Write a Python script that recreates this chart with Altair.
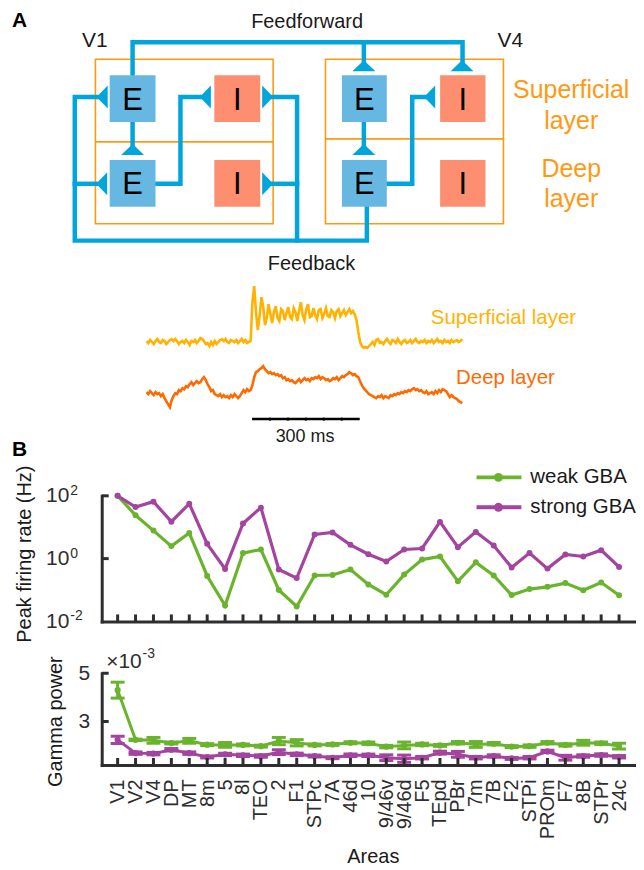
import altair as alt
import pandas as pd

FONT = "Liberation Sans"
AX = "#2e2e2e"
TXT = "#1a1a1a"
BLUE = "#00a5dc"
E_COLOR = "#66b8e2"
I_COLOR = "#fd8e70"
ORANGE = "#ff9912"
SUP_COLOR = "#ffb300"
DEEP_COLOR = "#ff6a00"

# ---------------- Panel B data ----------------
areas = ["V1", "V2", "V4", "DP", "MT", "8m", "5", "8l", "TEO", "2", "F1", "STPc", "7A",
         "46d", "10", "9/46v", "9/46d", "F5", "TEpd", "PBr", "7m", "7B", "F2", "STPi",
         "PROm", "F7", "8B", "STPr", "24c"]
series_names = ["weak GBA", "strong GBA"]
series_colors = ["#6ab42d", "#a3449f"]

rate_weak = [100, 24, 7.8, 2.5, 6.6, 0.28, 0.032, 1.5, 1.95, 0.10, 0.030, 0.29, 0.30,
             0.45, 0.15, 0.071, 0.31, 0.93, 1.17, 0.19, 0.76, 0.29, 0.069, 0.107,
             0.126, 0.166, 0.098, 0.174, 0.068]
rate_strong = [100, 44, 65, 15, 56, 2.95, 0.47, 13.2, 42, 0.45, 0.24, 5.9, 6.8,
               2.75, 1.38, 0.81, 1.95, 2.1, 14.8, 2.3, 7.1, 2.6, 0.52, 1.5,
               0.48, 1.35, 1.17, 1.86, 0.54]

# gamma power, in units of 1e-3
gamma_weak = [4.30, 2.24, 2.22, 2.11, 2.20, 2.04, 2.03, 2.03, 1.98, 2.19, 2.12, 2.03, 2.05,
              2.12, 2.10, 1.96, 2.01, 2.05, 2.01, 2.12, 2.05, 2.08, 1.96, 1.98,
              2.12, 2.03, 2.12, 2.10, 1.98]
gamma_weak_err = [0.33, 0.03, 0.12, 0.04, 0.10, 0.04, 0.10, 0.04, 0.04, 0.15, 0.13, 0.04, 0.04,
                  0.04, 0.05, 0.05, 0.14, 0.05, 0.04, 0.05, 0.12, 0.05, 0.04, 0.05,
                  0.05, 0.05, 0.10, 0.05, 0.12]
gamma_strong = [2.24, 1.69, 1.67, 1.83, 1.69, 1.53, 1.64, 1.60, 1.57, 1.73, 1.64, 1.57, 1.50,
                1.60, 1.60, 1.50, 1.46, 1.50, 1.71, 1.64, 1.50, 1.57, 1.47, 1.50,
                1.76, 1.50, 1.57, 1.61, 1.54]
gamma_strong_err = [0.15, 0.05, 0.05, 0.05, 0.05, 0.04, 0.05, 0.05, 0.05, 0.10, 0.05, 0.04, 0.04,
                    0.05, 0.05, 0.12, 0.15, 0.05, 0.06, 0.12, 0.05, 0.05, 0.04, 0.05,
                    0.05, 0.10, 0.05, 0.05, 0.05]

rate_ticks = [0.01, 1, 100]
rate_exps = ["-2", "0", "2"]
gamma_ticks = [3, 5]

# ---------------- Panel A data (diagram units) ----------------
region_x0 = [95.7, 326.5]
region_x1 = [274, 505]
region_y0 = [58, 58]
region_y1 = [223, 223]
region_mid = [141, 138]

cell_label = ["E", "I", "E", "I", "E", "I", "E", "I"]
cell_x0 = [110, 215, 110, 215, 343, 441.5, 343, 441.5]
cell_x1 = [156, 261, 156, 261, 388, 487, 388, 487]
cell_y0 = [74, 74, 159, 159, 74, 74, 159, 159]
cell_y1 = [121, 121, 206, 206, 121, 121, 206, 206]

wire_paths = [
    [(133, 74), (133, 41), (464, 41), (464, 60)],
    [(365, 41), (365, 60)],
    [(133, 121), (133, 144)],
    [(156, 183), (181, 183), (181, 96), (201, 96)],
    [(97, 96), (75, 96), (75, 240), (368, 240), (368, 206)],
    [(96, 183), (75, 183)],
    [(274, 96), (298, 96), (298, 240)],
    [(274, 183), (298, 183)],
    [(365, 121), (365, 144)],
    [(388, 183), (413.5, 183), (413.5, 96), (426, 96)],
]

tri_x = [102.5, 102, 133, 206, 268.5, 268.5, 365, 463.5, 365, 431]
tri_y = [96, 183, 148.5, 96, 96, 183, 64.5, 64.5, 148.5, 96]
tri_dir = ["left", "left", "up", "left", "right", "right", "up", "up", "up", "left"]
tri_paths = {"up": "M-1,0.48L1,0.48L0,-0.48Z",
             "left": "M0.48,-1L0.48,1L-0.48,0Z",
             "right": "M-0.48,-1L-0.48,1L0.48,0Z"}

label_text = ["Feedforward", "V1", "V4", "Feedback", "Superficial", "layer", "Deep", "layer",
              "Superficial layer", "Deep layer", "300 ms"]
label_x = [308, 95, 512, 312.5, 573, 573, 573, 573, 505, 507, 306]
label_y = [21, 40, 40, 263, 89, 120, 168, 198, 318, 378, 437]
label_size = [20, 21, 21, 20, 25, 25, 25, 25, 20.5, 20.5, 18]
label_color = [TXT, TXT, TXT, TXT, ORANGE, ORANGE, ORANGE, ORANGE, SUP_COLOR, DEEP_COLOR, TXT]

panel_letters = ["A", "B"]
panel_x = [12, 12]
panel_y = [20, 450]

# LFP traces: deflection (px units of the figure) sampled every 5 ms
sup_pre = [1, -1, 2, 0, -2, 1, 3, 0, -1, 2, 1, -2, 0, 2, 3, 1, 3, 1, -2, 0, 1, -1, 2, 0, -3,
           1, 0, 2, -1, 1, 4, 3, 1, -2, -1, -4, 0, -3, 1, -2, 0, 2, 3, 1, 3, 0, -1, 2, 1,
           0, 2, -1, 1, 3, 0, 2, -1, 0, 1]
sup_stim = [40, 56, 30, 12, 26, 45, 36, 17, 24, 38, 28, 19, 30, 36, 24, 21, 33, 31, 22, 29,
            35, 25, 23, 34, 30, 21, 31, 40, 27, 22, 33, 38, 25, 26, 34, 27, 23, 32, 33, 24,
            28, 34, 26, 25, 32, 30, 24, 31, 33, 26, 29, 32, 27, 30, 33, 29, 31, 28]
sup_post = [22, 10, 0, -4, -6, -5, -6, -4, -2, 0, -3, 2, 3, -1, 0, -2, 1, 3, 0, -2, 2, 1, -1,
            3, 0, -2, 1, 2, -1, 0, 2, -1, 1, 3, 0, -1, 1, 0, 2, -1, 1, 0, 2, -1, 1, 3, 0, 1,
            -1, 2, 0, 1, -1, 2, 0, 1, 2, 0, 1, 3]
deep_pre = [3, 1, 4, 2, 0, 3, 1, 2, -1, 1, -3, -6, -9, -12, -5, -1, 2, 1, 5, 4, 7, 6, 9, 8, 11,
            13, 10, 12, 14, 12, 13, 16, 18, 15, 11, 8, 4, 5, 1, 0, -1, 1, -2, 0, -2, -1, -3,
            0, -2, 1, -1, -3, -1, 2, 5, 3, 6, 4, 5]
deep_stim = [10, 18, 23, 24, 26, 27, 29, 26, 24, 22, 23, 21, 22, 20, 21, 19, 20, 17, 18, 15,
             16, 14, 15, 13, 12, 14, 16, 13, 15, 17, 15, 16, 14, 17, 16, 18, 17, 19, 16, 18,
             17, 15, 16, 14, 15, 17, 16, 18, 15, 17, 19, 18, 20, 21, 23, 22, 20, 21]
deep_post = [19, 18, 14, 10, 7, 5, 3, 1, 0, -1, -2, -3, -1, -2, 0, -3, -1, -2, -3, 0, -1, 1, 0,
             2, 1, 3, 2, 4, 3, 5, 4, 6, 7, 5, 6, 4, 5, 3, 2, 4, 1, 2, 3, 1, 4, 2, 5, 3, 6, 5,
             4, 1, -2, 0, -2, -3, -4, -6, -7, -8]
segment_start_ms = [0, 295, 585]
sample_ms = 5
scalebar_ms = [294, 594]

# trace placement in the diagram
trace_x0 = 147
px_per_ms = 0.36
trace_base = {"sup": 341.7, "deep": 395}
scalebar_y = 419

# ---------------- Panel A chart ----------------
W = 535
HA = 436
xA = alt.Scale(domain=[102, 102 + W], nice=False, zero=False)
yA = alt.Scale(domain=[8, 8 + HA], nice=False, zero=False, reverse=True)


def XA(f):
    return alt.X(f, type="quantitative", scale=xA, axis=None)


def YA(f):
    return alt.Y(f, type="quantitative", scale=yA, axis=None)


df_regions = pd.DataFrame({"x0": region_x0, "x1": region_x1, "y0": region_y0,
                           "y1": region_y1, "ym": region_mid})
regions = alt.Chart(df_regions).mark_rect(fillOpacity=0, stroke=ORANGE, strokeWidth=1.6).encode(
    x=XA("x0"), x2="x1", y=YA("y0"), y2="y1")
dividers = alt.Chart(df_regions).mark_rule(color=ORANGE, strokeWidth=1.8).encode(
    x=XA("x0"), x2="x1", y=YA("ym"))

wire_rows = []
for pi, path in enumerate(wire_paths):
    for si, (px, py) in enumerate(path):
        wire_rows.append({"path": pi, "seq": si, "x": px, "y": py})
wires = alt.Chart(pd.DataFrame(wire_rows)).mark_line(
    color=BLUE, strokeWidth=4.5, strokeCap="square", strokeJoin="miter").encode(
    x=XA("x"), y=YA("y"), detail="path:N", order="seq:Q")

df_cells = pd.DataFrame({"label": cell_label, "x0": cell_x0, "x1": cell_x1,
                         "y0": cell_y0, "y1": cell_y1})
df_cells["fill"] = [E_COLOR if c == "E" else I_COLOR for c in cell_label]
df_cells["cx"] = (df_cells["x0"] + df_cells["x1"]) / 2
df_cells["cy"] = (df_cells["y0"] + df_cells["y1"]) / 2
cells = alt.Chart(df_cells).mark_rect().encode(
    x=XA("x0"), x2="x1", y=YA("y0"), y2="y1", color=alt.Color("fill:N", scale=None))
letters = alt.Chart(df_cells).mark_text(font=FONT, fontSize=31, color="black", dy=2,
                                        baseline="middle", align="center").encode(
    x=XA("cx"), y=YA("cy"), text="label:N")

df_tri = pd.DataFrame({"x": tri_x, "y": tri_y, "shape": [tri_paths[d] for d in tri_dir]})
triangles = alt.Chart(df_tri).mark_point(filled=True, size=529, opacity=1, color=BLUE,
                                         strokeWidth=0).encode(
    x=XA("x"), y=YA("y"), shape=alt.Shape("shape:N", scale=None))

df_labels = pd.DataFrame({"text": label_text, "x": label_x, "y": label_y,
                          "size": label_size, "color": label_color})
labels = alt.Chart(df_labels).mark_text(font=FONT, baseline="middle", align="center").encode(
    x=XA("x"), y=YA("y"), text="text:N", size=alt.Size("size:Q", scale=None),
    color=alt.Color("color:N", scale=None))

df_panel = pd.DataFrame({"text": panel_letters, "x": panel_x, "y": panel_y})
panel_labels = alt.Chart(df_panel).mark_text(font=FONT, fontSize=21, fontWeight="bold",
                                             color="black", baseline="middle",
                                             align="left").encode(
    x=XA("x"), y=YA("y"), text="text:N")

trace_rows = []
for name, segs, col in [("sup", [sup_pre, sup_stim, sup_post], SUP_COLOR),
                        ("deep", [deep_pre, deep_stim, deep_post], DEEP_COLOR)]:
    for start, seg in zip(segment_start_ms, segs):
        for i, v in enumerate(seg):
            t = start + sample_ms * i
            trace_rows.append({"trace": name, "t": t, "x": trace_x0 + px_per_ms * t,
                               "y": trace_base[name] - v, "color": col})
traces = alt.Chart(pd.DataFrame(trace_rows)).mark_line(strokeWidth=2.6).encode(
    x=XA("x"), y=YA("y"), detail="trace:N", order="t:Q",
    color=alt.Color("color:N", scale=None))

df_bar = pd.DataFrame({"x0": [trace_x0 + px_per_ms * scalebar_ms[0]],
                       "x1": [trace_x0 + px_per_ms * scalebar_ms[1]],
                       "y": [scalebar_y]})
scalebar = alt.Chart(df_bar).mark_rule(color="black", strokeWidth=2.6).encode(
    x=XA("x0"), x2="x1", y=YA("y"))
df_bar_ticks = pd.DataFrame({"x": [trace_x0 + px_per_ms * (scalebar_ms[0] + 50 * k)
                                   for k in range(1, 6)],
                             "y": [scalebar_y] * 5})
bar_ticks = alt.Chart(df_bar_ticks).mark_circle(size=10, color="black", opacity=1).encode(
    x=XA("x"), y=YA("y"))

df_anchor = pd.DataFrame({"x0": [12], "x1": [13], "y0": [8], "y1": [9]})
anchor = alt.Chart(df_anchor).mark_rect(color="white").encode(
    x=XA("x0"), x2="x1", y=YA("y0"), y2="y1")

panelA = alt.layer(anchor, regions, dividers, wires, cells, letters, triangles, labels,
                   panel_labels, traces, scalebar, bar_ticks).properties(width=W, height=HA)

# ---------------- Panel B charts ----------------
n = len(areas)
idx = list(range(n))
xB = alt.Scale(type="point", domain=areas, padding=0.89)
cB = alt.Scale(domain=series_names, range=series_colors)
HB1 = 126
HB2 = 92

x_top = alt.X("area:N", scale=xB, axis=alt.Axis(
    labels=False, ticks=False, tickSize=0, title=None, grid=False, domainWidth=3,
    domainColor=AX, domainCap="square"))
y_top_axis = alt.Axis(
    values=rate_ticks, labelExpr="'10'", ticks=False, tickSize=0, labelPadding=33,
    labelFontSize=21, labelFont=FONT, labelColor=AX, labelFlush=False, grid=False,
    domainWidth=3, domainColor=AX, domainCap="square",
    title="Peak firing rate (Hz)", titleFont=FONT, titleFontSize=20, titleFontWeight="normal",
    titleColor=TXT, titleAngle=270, titleX=-77, titleY=58, titleAlign="center",
    titleBaseline="middle")
y_top_scale = alt.Scale(type="log", domain=[0.01, 100], nice=False)


def y_top(f):
    return alt.Y(f, type="quantitative", scale=y_top_scale, axis=y_top_axis)


df_rate = pd.DataFrame({"area": areas * 2, "idx": idx * 2, "rate": rate_weak + rate_strong,
                        "series": [series_names[0]] * n + [series_names[1]] * n})
rate_line = alt.Chart(df_rate).mark_line(strokeWidth=3.2).encode(
    x=x_top, y=y_top("rate"), color=alt.Color("series:N", scale=cB, legend=None),
    order="idx:Q")
rate_pts = alt.Chart(df_rate).mark_circle(size=36, opacity=1).encode(
    x=x_top, y=y_top("rate"), color=alt.Color("series:N", scale=cB, legend=None))
xt_top = alt.Chart(pd.DataFrame({"area": areas})).mark_rule(color=AX, strokeWidth=3).encode(
    x=x_top, y=alt.value(HB1), y2=alt.value(HB1 - 7))
yt_top = alt.Chart(pd.DataFrame({"rate": [1, 100]})).mark_rule(color=AX, strokeWidth=3).encode(
    y=y_top("rate"), x=alt.value(0), x2=alt.value(7))
exp_top = alt.Chart(pd.DataFrame({"rate": rate_ticks, "exp": rate_exps})).mark_text(
    font=FONT, fontSize=14, color=AX, align="left", baseline="middle", dy=-5).encode(
    y=y_top("rate"), x=alt.value(-31.5), text="exp:N")

legend_layers = []
for name, col, py in zip(series_names, series_colors, [-18.5, 11.5]):
    legend_layers.append(alt.Chart(pd.DataFrame({"a": [0]})).mark_rule(
        color=col, strokeWidth=4).encode(x=alt.value(376), x2=alt.value(421), y=alt.value(py)))
    legend_layers.append(alt.Chart(pd.DataFrame({"a": [0]})).mark_circle(
        color=col, size=80, opacity=1).encode(x=alt.value(398), y=alt.value(py)))
    legend_layers.append(alt.Chart(pd.DataFrame({"t": [name]})).mark_text(
        font=FONT, fontSize=20.5, color=TXT, align="left", baseline="middle").encode(
        x=alt.value(430), y=alt.value(py), text="t:N"))

panelB1 = alt.layer(rate_line, rate_pts, xt_top, yt_top, exp_top, *legend_layers).properties(
    width=W, height=HB1)

x_bot = alt.X("area:N", scale=xB, axis=alt.Axis(
    labelAngle=270, labelFont=FONT, labelFontSize=20, labelColor=AX, labelPadding=14,
    labelOverlap=False, labelBound=False, ticks=False, tickSize=0, grid=False,
    domainWidth=3, domainColor=AX, domainCap="square",
    title="Areas", titleFont=FONT, titleFontSize=20, titleFontWeight="normal", titleColor=TXT,
    titleX=272, titleY=92, titleAlign="center", titleBaseline="middle"))
y_bot_axis = alt.Axis(
    values=gamma_ticks, ticks=False, tickSize=0, labelPadding=12, labelFontSize=21,
    labelFont=FONT, labelColor=AX, labelFlush=False, grid=False, domainWidth=3,
    domainColor=AX, domainCap="square",
    title="Gamma power", titleFont=FONT, titleFontSize=20, titleFontWeight="normal",
    titleColor=TXT, titleAngle=270, titleX=-46, titleY=48, titleAlign="center",
    titleBaseline="middle")
y_bot_scale = alt.Scale(domain=[1.2, 5], nice=False, zero=False)


def y_bot(f):
    return alt.Y(f, type="quantitative", scale=y_bot_scale, axis=y_bot_axis)


gw = gamma_weak + gamma_strong
ge = gamma_weak_err + gamma_strong_err
df_g = pd.DataFrame({"area": areas * 2, "idx": idx * 2, "g": gw,
                     "lo": [v - e for v, e in zip(gw, ge)],
                     "hi": [v + e for v, e in zip(gw, ge)],
                     "series": [series_names[0]] * n + [series_names[1]] * n})
df_caps = pd.concat([
    df_g[["area", "series"]].assign(g=df_g["lo"]),
    df_g[["area", "series"]].assign(g=df_g["hi"])], ignore_index=True)

g_line = alt.Chart(df_g).mark_line(strokeWidth=3).encode(
    x=x_bot, y=y_bot("g"), color=alt.Color("series:N", scale=cB, legend=None), order="idx:Q")
g_err = alt.Chart(df_g).mark_rule(strokeWidth=3).encode(
    x=x_bot, y=y_bot("lo"), y2="hi", color=alt.Color("series:N", scale=cB, legend=None))
g_caps = alt.Chart(df_caps).mark_tick(orient="horizontal", size=14, thickness=3,
                                      opacity=1).encode(
    x=x_bot, y=y_bot("g"), color=alt.Color("series:N", scale=cB, legend=None))
g_pts = alt.Chart(df_g).mark_circle(size=38, opacity=1).encode(
    x=x_bot, y=y_bot("g"), color=alt.Color("series:N", scale=cB, legend=None))
xt_bot = alt.Chart(pd.DataFrame({"area": areas})).mark_rule(color=AX, strokeWidth=3).encode(
    x=x_bot, y=alt.value(HB2), y2=alt.value(HB2 - 7))
yt_bot = alt.Chart(pd.DataFrame({"g": gamma_ticks})).mark_rule(color=AX, strokeWidth=3).encode(
    y=y_bot("g"), x=alt.value(0), x2=alt.value(7))
mult = alt.Chart(pd.DataFrame({"t": ["\u00d710"]})).mark_text(
    font=FONT, fontSize=21, color=AX, align="left", baseline="middle").encode(
    x=alt.value(4.5), y=alt.value(-11.5), text="t:N")
mult_exp = alt.Chart(pd.DataFrame({"t": ["-3"]})).mark_text(
    font=FONT, fontSize=14, color=AX, align="left", baseline="middle").encode(
    x=alt.value(41), y=alt.value(-19.5), text="t:N")

panelB2 = alt.layer(g_line, g_err, g_caps, g_pts, xt_bot, yt_bot, mult, mult_exp).properties(
    width=W, height=HB2)

chart = alt.vconcat(panelA, panelB1, panelB2, spacing=52, bounds="flush").properties(
    padding={"left": 4, "top": 0, "right": 0, "bottom": 0}
).configure(font=FONT).configure_view(strokeWidth=0, stroke="transparent")

chart.save("out.html", embed_options={"renderer": "svg", "actions": False})
